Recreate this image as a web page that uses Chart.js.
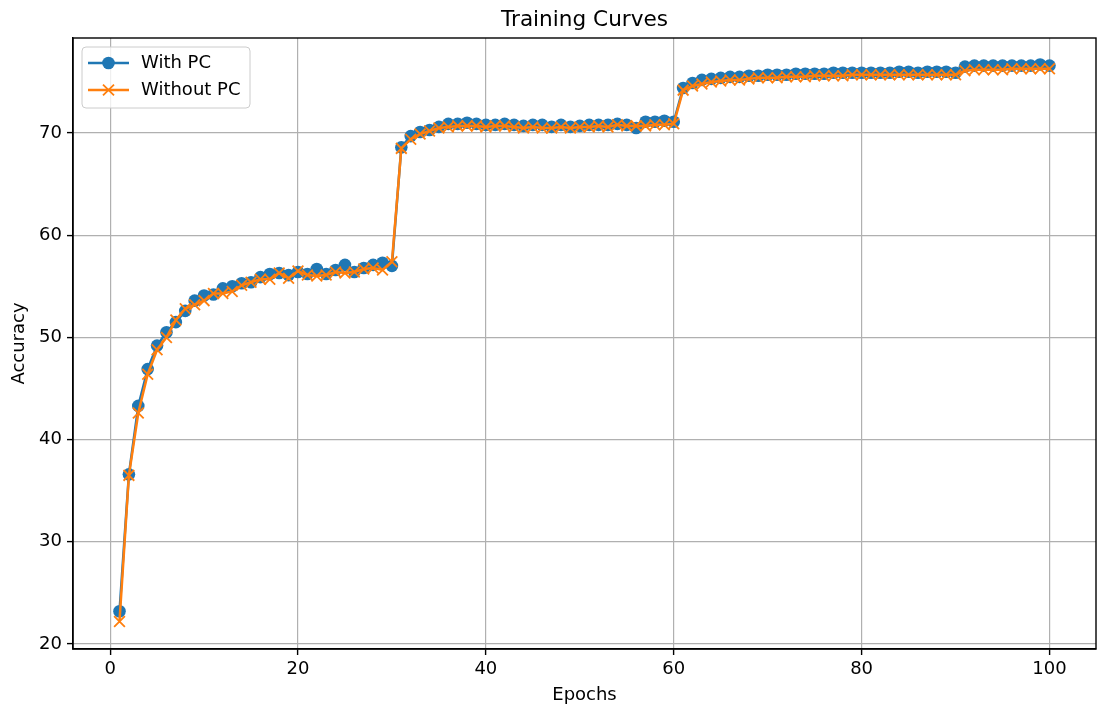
<!DOCTYPE html>
<html>
<head>
<meta charset="utf-8">
<script src="https://cdn.jsdelivr.net/npm/chart.js@4/dist/chart.umd.min.js"></script>
<style>
  html, body { margin: 0; padding: 0; background: #fff; }
  canvas { display: block; }
</style>
</head>
<body>
<canvas id="chart" width="1097" height="713"></canvas>
<script>
// epochs 1..100
const epochs = [
  1,2,3,4,5,6,7,8,9,10,11,12,13,14,15,16,17,18,19,20,
  21,22,23,24,25,26,27,28,29,30,31,32,33,34,35,36,37,38,39,40,
  41,42,43,44,45,46,47,48,49,50,51,52,53,54,55,56,57,58,59,60,
  61,62,63,64,65,66,67,68,69,70,71,72,73,74,75,76,77,78,79,80,
  81,82,83,84,85,86,87,88,89,90,91,92,93,94,95,96,97,98,99,100
];

// accuracy, with PC
const withPC = [
  23.2, 36.6, 43.3, 46.9, 49.2, 50.5, 51.5, 52.6, 53.6, 54.1,
  54.2, 54.8, 55.0, 55.3, 55.4, 55.9, 56.2, 56.3, 56.1, 56.4,
  56.2, 56.7, 56.2, 56.6, 57.1, 56.4, 56.8, 57.1, 57.3, 57.0,
  68.6, 69.7, 70.1, 70.3, 70.6, 70.9, 70.9, 71.0, 70.9, 70.8,
  70.8, 70.9, 70.8, 70.7, 70.8, 70.8, 70.6, 70.8, 70.6, 70.7,
  70.8, 70.8, 70.8, 70.9, 70.8, 70.5, 71.1, 71.1, 71.2, 71.1,
  74.4, 74.9, 75.2, 75.3, 75.4, 75.5, 75.5, 75.6, 75.6, 75.7,
  75.7, 75.7, 75.8, 75.8, 75.8, 75.8, 75.9, 75.9, 75.9, 75.9,
  75.9, 75.9, 75.9, 76.0, 76.0, 75.9, 76.0, 76.0, 76.0, 75.9,
  76.5, 76.6, 76.6, 76.6, 76.6, 76.6, 76.6, 76.6, 76.7, 76.6
];

// accuracy, without PC
const withoutPC = [
  22.2, 36.5, 42.6, 46.4, 48.8, 50.0, 51.7, 52.8, 53.2, 53.6,
  54.3, 54.3, 54.5, 55.1, 55.4, 55.7, 55.7, 56.3, 55.8, 56.5,
  56.1, 56.0, 56.1, 56.4, 56.3, 56.4, 56.7, 56.8, 56.6, 57.4,
  68.5, 69.4, 69.9, 70.2, 70.5, 70.6, 70.7, 70.7, 70.7, 70.6,
  70.7, 70.7, 70.6, 70.5, 70.6, 70.5, 70.5, 70.6, 70.5, 70.6,
  70.6, 70.7, 70.6, 70.8, 70.7, 70.7, 70.7, 70.8, 70.8, 70.9,
  74.2, 74.6, 74.8, 75.0, 75.1, 75.2, 75.2, 75.3, 75.4, 75.4,
  75.4, 75.5, 75.5, 75.5, 75.6, 75.6, 75.6, 75.6, 75.7, 75.7,
  75.7, 75.7, 75.7, 75.7, 75.7, 75.7, 75.7, 75.7, 75.7, 75.7,
  76.1, 76.2, 76.2, 76.2, 76.2, 76.3, 76.3, 76.3, 76.3, 76.3
];

const xTicks = [0, 20, 40, 60, 80, 100];
const yTicks = [20, 30, 40, 50, 60, 70];

const BLUE = '#1f77b4';
const ORANGE = '#ff7f0e';
const FONT = 'DejaVu Sans';

// 標題、外框、圖例（matplotlib 風格）
const mplDecor = {
  id: 'mplDecor',
  afterDatasetsDraw(chart) {
    const { ctx, chartArea: a } = chart;
    ctx.save();
    ctx.strokeStyle = '#000';
    ctx.lineWidth = 1.4;
    ctx.strokeRect(a.left, a.top, a.right - a.left, a.bottom - a.top);
    ctx.restore();
  },
  afterDraw(chart) {
    const { ctx, chartArea: a } = chart;
    ctx.save();
    ctx.fillStyle = '#000';
    ctx.font = `21.6px "${FONT}"`;
    ctx.textAlign = 'center';
    ctx.textBaseline = 'middle';
    ctx.fillText('Training Curves', (a.left + a.right) / 2, 20);

    // legend box
    const bx = 82, by = 47, bw = 168, bh = 61, r = 4;
    ctx.beginPath();
    ctx.moveTo(bx + r, by);
    ctx.arcTo(bx + bw, by, bx + bw, by + bh, r);
    ctx.arcTo(bx + bw, by + bh, bx, by + bh, r);
    ctx.arcTo(bx, by + bh, bx, by, r);
    ctx.arcTo(bx, by, bx + bw, by, r);
    ctx.closePath();
    ctx.fillStyle = 'rgba(255,255,255,0.8)';
    ctx.fill();
    ctx.strokeStyle = '#cccccc';
    ctx.lineWidth = 1;
    ctx.stroke();

    const items = [
      { label: 'With PC', color: BLUE, y: 63, mark: 'dot' },
      { label: 'Without PC', color: ORANGE, y: 90, mark: 'x' }
    ];
    items.forEach(it => {
      ctx.strokeStyle = it.color;
      ctx.lineWidth = 2.5;
      ctx.beginPath();
      ctx.moveTo(88, it.y);
      ctx.lineTo(129, it.y);
      ctx.stroke();
      if (it.mark === 'dot') {
        ctx.fillStyle = it.color;
        ctx.beginPath();
        ctx.arc(108.5, it.y, 6.3, 0, Math.PI * 2);
        ctx.fill();
      } else {
        ctx.lineWidth = 1.8;
        ctx.beginPath();
        ctx.moveTo(103, it.y - 5.4); ctx.lineTo(114, it.y + 5.4);
        ctx.moveTo(103, it.y + 5.4); ctx.lineTo(114, it.y - 5.4);
        ctx.stroke();
      }
      ctx.fillStyle = '#000';
      ctx.font = `18px "${FONT}"`;
      ctx.textAlign = 'left';
      ctx.fillText(it.label, 141, it.y);
    });
    ctx.restore();
  }
};

const tickFont = { family: FONT, size: 18 };

new Chart(document.getElementById('chart'), {
  type: 'line',
  data: {
    labels: epochs,
    datasets: [
      {
        label: 'With PC', data: withPC,
        borderColor: BLUE, backgroundColor: BLUE, borderWidth: 2.5,
        pointStyle: 'circle', pointRadius: 6.3, pointBorderWidth: 0,
        pointBackgroundColor: BLUE, tension: 0, order: 2
      },
      {
        label: 'Without PC', data: withoutPC,
        borderColor: ORANGE, backgroundColor: ORANGE, borderWidth: 2.5,
        pointStyle: 'crossRot', pointRadius: 7.6, pointBorderWidth: 1.8,
        pointBorderColor: ORANGE, tension: 0, order: 1
      }
    ]
  },
  options: {
    responsive: false,
    animation: false,
    layout: { autoPadding: false, padding: { top: 38, right: 1, left: 0, bottom: 0 } },
    plugins: { legend: { display: false }, tooltip: { enabled: false }, title: { display: false } },
    scales: {
      x: {
        type: 'linear', min: -3.95, max: 104.95,
        afterBuildTicks: s => { s.ticks = xTicks.map(v => ({ value: v })); },
        afterFit: s => { s.height = 64; },
        ticks: { font: tickFont, color: '#000', padding: 4, maxRotation: 0 },
        grid: { color: '#b0b0b0', lineWidth: 1.2, tickLength: 6, tickColor: '#000', tickWidth: 1.4 },
        border: { display: true, color: '#000', width: 1.4 },
        title: { display: true, text: 'Epochs', font: tickFont, color: '#000', padding: { top: 0, bottom: 7 } }
      },
      y: {
        type: 'linear', min: 19.51, max: 79.3,
        afterBuildTicks: s => { s.ticks = yTicks.map(v => ({ value: v })); },
        afterFit: s => { s.width = 73; },
        ticks: { font: tickFont, color: '#000', padding: 5 },
        grid: { color: '#b0b0b0', lineWidth: 1.2, tickLength: 6, tickColor: '#000', tickWidth: 1.4 },
        border: { display: true, color: '#000', width: 1.4 },
        title: { display: true, text: 'Accuracy', font: tickFont, color: '#000', padding: { top: 9, bottom: 0 } }
      }
    }
  },
  plugins: [mplDecor]
});
</script>
</body>
</html>
